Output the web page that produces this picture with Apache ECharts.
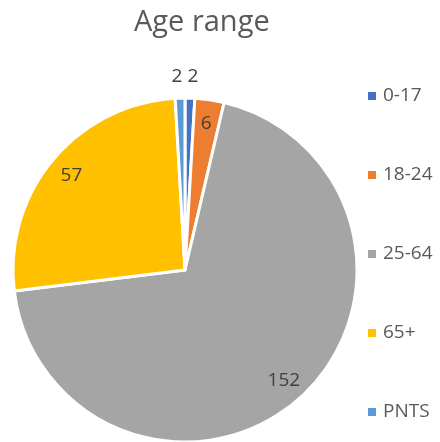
<!DOCTYPE html>
<html>
<head>
<meta charset="utf-8">
<script src="https://cdn.jsdelivr.net/npm/echarts@6/dist/echarts.min.js"></script>
<style>
  html, body { margin: 0; padding: 0; background: #fff; }
  #chart { width: 440px; height: 442px; }
</style>
</head>
<body>
<div id="chart"></div>
<script>
// values
const categories = ['0-17', '18-24', '25-64', '65+', 'PNTS'];
const counts = [2, 6, 152, 57, 2];
const sliceColors = ['#4472C4', '#ED7D31', '#A5A5A5', '#FFC000', '#5B9BD5'];

const total = counts.reduce((a, b) => a + b, 0);
const CENTER = [185, 270];
const FONT = 'Open Sans';

// tiny slices get their label outside, above the pie (like Excel's best fit)
const isSmall = (v) => v / total < 0.02;

const chart = echarts.init(document.getElementById('chart'), null, { renderer: 'canvas' });

const labelText = {
  fontFamily: FONT,
  fontSize: 19,
  color: '#404040',
  formatter: '{c}',
};

const option = {
  animation: false,
  title: {
    text: 'Age range',
    left: 129,
    top: 3,
    textStyle: { fontFamily: FONT, fontSize: 29, fontWeight: 'normal', color: '#595959' },
  },
  legend: {
    orient: 'vertical',
    left: 368,
    top: 86,
    padding: 0,
    itemGap: 59,
    itemWidth: 8,
    itemHeight: 8,
    icon: 'rect',
    itemStyle: { borderWidth: 0 },
    data: categories,
    textStyle: {
      fontFamily: FONT,
      fontSize: 19,
      lineHeight: 20,
      color: '#595959',
      padding: [0, 0, 0, 2],
    },
  },
  series: [
    {
      // the pie itself
      type: 'pie',
      center: CENTER,
      radius: 172,
      startAngle: 90,
      clockwise: true,
      label: { show: false },
      labelLine: { show: false },
      emphasis: { disabled: true },
      itemStyle: { borderColor: '#fff', borderWidth: 3 },
      data: categories.map((name, i) => ({
        name,
        value: counts[i],
        itemStyle: { color: sliceColors[i] },
      })),
    },
    {
      // invisible ring carrying the labels near the outer edge
      type: 'pie',
      silent: true,
      center: CENTER,
      radius: [120, 170],
      startAngle: 90,
      clockwise: true,
      emphasis: { disabled: true },
      itemStyle: { color: 'transparent', borderWidth: 0 },
      labelLine: { show: false },
      labelLayout: { hideOverlap: false },
      data: categories.map((name, i) => ({
        name,
        value: counts[i],
        label: { show: !isSmall(counts[i]), position: 'inside', ...labelText },
      })),
    },
    {
      // invisible ring for the labels of the tiny slices, outside the pie
      type: 'pie',
      silent: true,
      center: CENTER,
      radius: [180, 200],
      startAngle: 90,
      clockwise: true,
      emphasis: { disabled: true },
      itemStyle: { color: 'transparent', borderWidth: 0 },
      labelLine: { show: false },
      labelLayout: { hideOverlap: false },
      data: categories.map((name, i) => ({
        name,
        value: counts[i],
        label: {
          show: isSmall(counts[i]),
          position: 'inside',
          ...labelText,
          // spread the two "2"s apart a little
          padding: i === 0 ? [0, 0, 0, 5] : [0, 5, 0, 0],
        },
      })),
    },
  ],
};

chart.setOption(option);
</script>
</body>
</html>
